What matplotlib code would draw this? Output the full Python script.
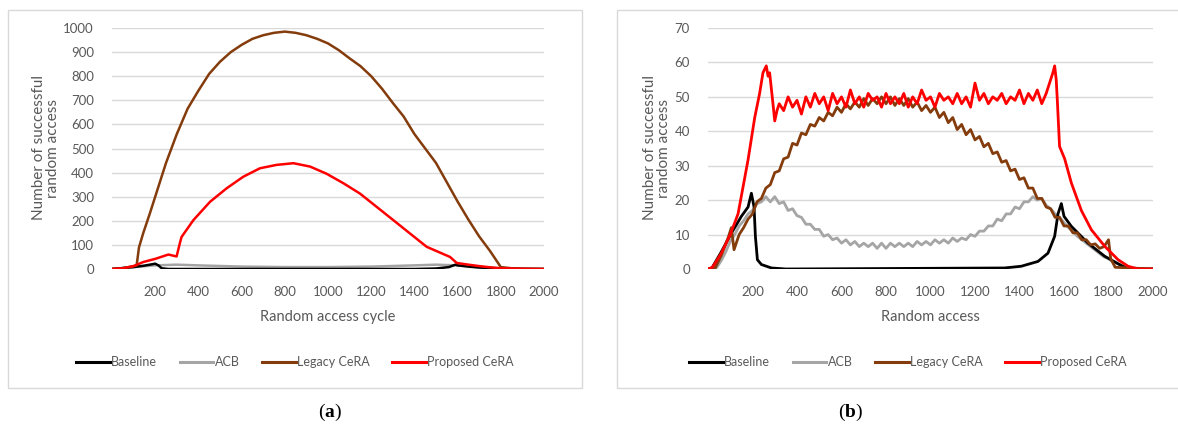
import numpy as np
import matplotlib
matplotlib.use('Agg')
import matplotlib.pyplot as plt
from matplotlib.patches import Rectangle

plt.rcParams['font.family'] = ['Lato', 'DejaVu Sans']
plt.rcParams['mathtext.fontset'] = 'custom'
plt.rcParams['mathtext.rm'] = 'Liberation Serif'
plt.rcParams['mathtext.bf'] = 'Liberation Serif:bold'

series_names = ['Baseline', 'ACB', 'Legacy CeRA', 'Proposed CeRA']
colors = ['#000000', '#a5a5a5', '#843c0c', '#ff0000']
x_ticks = [200, 400, 600, 800, 1000, 1200, 1400, 1600, 1800, 2000]

# ---- panel (a) values
a_base_x = [0, 100, 150, 200, 215, 230, 260, 1400, 1500, 1560, 1590, 1600, 1650, 1700, 1800, 1900, 2000]
a_base_y = [0, 8, 14, 22, 15, 3, 0, 0, 2, 8, 18, 15, 10, 6, 2, 0.5, 0]

a_acb_x = [0, 100, 200, 300, 400, 600, 800, 1000, 1200, 1400, 1500, 1600, 1700, 1800, 1900, 2000]
a_acb_y = [0, 8, 15, 18, 15, 10, 8, 8, 10, 15, 18, 15, 8, 3, 0.5, 0]

a_leg_x = [0, 50, 100, 114, 125, 145, 175, 200, 250, 300, 350, 400, 450, 500, 550, 600, 650,
           700, 750, 800, 850, 900, 950, 1000, 1050, 1100, 1150, 1200, 1250, 1300, 1350,
           1400, 1450, 1500, 1550, 1600, 1650, 1700, 1750, 1800, 1850, 1900, 2000]
a_leg_y = [0, 3, 12, 15, 90, 150, 230, 300, 440, 560, 665, 740, 810, 860, 900, 930, 955,
           970, 980, 985, 980, 970, 955, 936, 908, 874, 842, 800, 748, 689, 633,
           560, 500, 440, 360, 280, 205, 135, 75, 8, 3, 1, 0]

a_prop_x = [0, 50, 100, 145, 200, 261, 299, 315, 322, 377, 454, 531, 608, 685, 762, 840, 917,
            994, 1071, 1148, 1225, 1302, 1380, 1457, 1534, 1565, 1596, 1650, 1700, 1750, 1800,
            1900, 2000]
a_prop_y = [0, 3, 12, 29, 42, 60, 52, 110, 133, 203, 279, 335, 383, 418, 432, 439, 425,
            395, 356, 313, 258, 203, 147, 92, 62, 50, 25, 18, 12, 7, 3, 1, 0]

# ---- panel (b) values
b_base_x = [0, 15, 60, 105, 150, 180, 195, 207, 213, 222, 240, 285, 350, 1333, 1408, 1483,
            1528, 1558, 1573, 1588, 1600, 1633, 1708, 1783, 1858, 1888, 2000]
b_base_y = [0, 0, 5, 10.4, 15.3, 18, 22, 18, 9.5, 2.7, 1.3, 0.3, 0, 0.3, 0.8, 2.2,
            4.6, 9.5, 16, 19, 15.3, 12.4, 7.5, 3.7, 1, 0, 0]

b_acb_x = [0, 20] + list(range(40, 1920, 20)) + [2000]
b_acb_y = [0, 0,
           0.5, 2.5, 5, 8, 10, 12.5, 14, 16,
           17, 19, 19.5, 21, 19.5, 21, 19, 19.5, 17, 17.5,
           15.5, 15, 13, 13, 11.5, 11.5, 9.5, 10, 8.5, 9,
           7.5, 8.5, 7, 8, 6.5, 7.5, 6.5, 7.5, 6, 7.5,
           6, 7.5, 6.5, 7.5, 6.5, 7.5, 6.5, 8, 7, 8,
           7, 8.5, 7.5, 8.5, 7.5, 9, 8, 9, 8.5, 10,
           9.5, 11, 11, 12.5, 12.5, 14.5, 14, 16, 16, 18,
           17.5, 19.5, 19.5, 21, 20, 20.5, 18.5, 17.5, 16, 15,
           13.5, 12, 11, 9.5, 8.5, 7.5, 6.5, 5.5, 4.5, 3.5,
           3, 2, 1.5, 1, 0.5, 0,
           0]

b_leg_x = [0, 30, 60, 90, 105, 117] + list(range(140, 1800, 20)) + [1800, 1810, 1830, 2000]
b_leg_y = [0, 0, 4, 9, 12, 5.6,
           10, 12, 14.5,
           16, 19.5, 20.5, 23.5, 24.5, 28, 28.5, 32, 32.5, 36.5,
           36, 39.5, 39, 42, 41.5, 44, 43, 45.5, 44.5, 47,
           45.5, 48, 46.5, 48.5, 47, 49.5, 47.5, 49.5, 48, 50,
           48, 50, 47.5, 49.5, 47.5, 49.5, 47, 48.5, 46, 47.5,
           45.5, 47, 44, 45.5, 42.5, 44, 40.5, 42, 39, 40.5,
           37.5, 38.5, 35.5, 36.5, 33.5, 34, 31, 31.5, 28.5, 29,
           26, 26.5, 23.5, 23.5, 20.5, 20.5, 18, 17.5, 15, 15,
           12.5, 12.5, 10.5, 10.5, 8.5, 8.5, 7, 7.3, 6, 6.5,
           8.5, 3, 0.5, 0]

b_prop_x = [0, 20, 60, 100, 135, 180, 210, 232, 247, 262, 270, 277, 292, 300, 310] + \
    list(range(320, 1540, 20)) + \
    [1535, 1550, 1558, 1565, 1570, 1580, 1603, 1633, 1678, 1723, 1783, 1843, 1888, 1933, 2000]
b_prop_y = [0, 0.5, 4.6, 10, 16, 31.7, 44, 51, 57, 59, 56, 57, 48, 43, 46,
            48, 46, 50, 47, 49, 45, 50, 47, 51, 48, 50, 46, 51, 48, 50, 47,
            52, 48, 50, 47, 51, 49, 50, 47, 51, 48, 50, 48, 51, 47, 50, 48,
            52, 49, 50, 47, 51, 49, 50, 48, 51, 48, 50, 47, 54, 49,
            51, 48, 50, 49, 51, 48, 50, 49, 52, 48, 51, 49, 52,
            48, 51, 54, 57, 59, 55, 49, 35.6, 32, 25, 17, 11.4, 6.6,
            2.7, 0.8, 0, 0]

panel_a = [(a_base_x, a_base_y), (a_acb_x, a_acb_y), (a_leg_x, a_leg_y), (a_prop_x, a_prop_y)]
panel_b = [(b_base_x, b_base_y), (b_acb_x, b_acb_y), (b_leg_x, b_leg_y), (b_prop_x, b_prop_y)]

W, H = 1178, 434
fig = plt.figure(figsize=(W / 100, H / 100), dpi=100)
txt = '#595959'

# panel frames
fig.patches.append(Rectangle((8 / W, 46 / H), 574 / W, 378 / H, transform=fig.transFigure,
                             fill=False, edgecolor='#d9d9d9', lw=1))
fig.patches.append(Rectangle((617 / W, 46 / H), 600 / W, 378 / H, transform=fig.transFigure,
                             fill=False, edgecolor='#d9d9d9', lw=1))


def draw(rect, data, ymax, ystep, xlabel, ylab_x, leg_x, tag_x, tag, lw):
    ax = fig.add_axes(rect)
    order = [1, 0, 2, 3]
    handles = [None] * 4
    for i in order:
        xs, ys = data[i]
        ln, = ax.plot(xs, ys, color=colors[i], lw=lw, label=series_names[i],
                      solid_joinstyle='round')
        handles[i] = ln
    ax.set_xlim(0, 2000)
    ax.set_ylim(0, ymax)
    ax.set_xticks(x_ticks)
    ax.set_yticks(np.arange(0, ymax + 1, ystep))
    ax.grid(axis='y', color='#d9d9d9', lw=1)
    ax.set_axisbelow(True)
    for s in ax.spines.values():
        s.set_visible(False)
    ax.tick_params(length=0, labelsize=9.5, labelcolor=txt)
    ax.tick_params(axis='y', pad=13)
    ax.tick_params(axis='x', pad=12)
    ax.set_xlabel(xlabel, fontsize=10.5, color=txt, labelpad=9)
    fig.text(ylab_x, (434 - 148) / H, 'Number of successful\nrandom access', rotation=90,
             ha='center', va='center', fontsize=11, color=txt, linespacing=1.0)
    fig.legend(handles, series_names, loc='center', bbox_to_anchor=(leg_x, (434 - 362) / H),
               ncol=4, frameon=False, fontsize=9, handlelength=2.7, handletextpad=0.1,
               columnspacing=1.8, labelcolor=txt)
    for lh in fig.legends[-1].get_lines():
        lh.set_linewidth(2.2)
    fig.text(tag_x, (434 - 412) / H, '(' + r'$\mathbf{' + tag + '}$' + ')', ha='center',
             va='center', fontsize=14, family='Liberation Serif')
    return ax


draw([112 / W, (434 - 269) / H, 432 / W, 241 / H], panel_a, 1000, 100,
     'Random access cycle', 46 / W, 295 / W, 330 / W, 'a', 1.8)
draw([708 / W, (434 - 269) / H, 445 / W, 241 / H], panel_b, 70, 10,
     'Random access', 657 / W, 908 / W, 851 / W, 'b', 2.0)

fig.savefig('out.png', dpi=100)
